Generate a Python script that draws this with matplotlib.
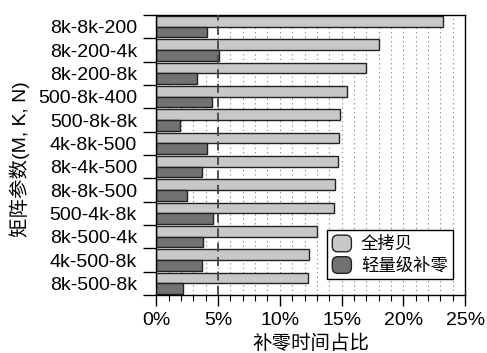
import matplotlib
matplotlib.use('Agg')
import matplotlib.pyplot as plt
import numpy as np
from matplotlib.patches import Patch, FancyBboxPatch
from matplotlib.legend_handler import HandlerPatch
from matplotlib.ticker import MultipleLocator, FixedLocator, FuncFormatter

plt.rcParams['font.family'] = ['Liberation Sans', 'Noto Sans CJK SC']

# 矩阵形状 (M-K-N)
shapes = ['8k-8k-200', '8k-200-4k', '8k-200-8k', '500-8k-400', '500-8k-8k',
          '4k-8k-500', '8k-4k-500', '8k-8k-500', '500-4k-8k', '8k-500-4k',
          '4k-500-8k', '8k-500-8k']
# 补零时间占比 (%)
full_copy = [23.2, 18.0, 17.0, 15.4, 14.9, 14.8, 14.7, 14.5, 14.4, 13.0, 12.4, 12.3]
light_pad = [4.1, 5.1, 3.3, 4.5, 1.9, 4.1, 3.7, 2.5, 4.6, 3.8, 3.7, 2.2]

series_names = ['全拷贝', '轻量级补零']
colors = ['#c8c8c8', '#727272']
fs = 14


class RoundBoxHandler(HandlerPatch):
    def create_artists(self, legend, orig_handle, xdescent, ydescent,
                       width, height, fontsize, trans):
        p = FancyBboxPatch((-xdescent + 1.5, -ydescent + 1.5), width - 3, height - 3,
                           boxstyle='round,pad=1.5,rounding_size=4',
                           facecolor=orig_handle.get_facecolor(),
                           edgecolor='#222222', linewidth=1.0, transform=trans)
        return [p]


fig = plt.figure(figsize=(4.87, 3.53), dpi=100)
ax = fig.add_axes([0.321, 0.164, 0.634, 0.7935])

y = np.arange(len(shapes))
h = 0.46
ax.barh(y - h / 2, full_copy, height=h, color=colors[0], edgecolor='#222222',
        linewidth=1.0, zorder=2)
ax.barh(y + h / 2, light_pad, height=h, color=colors[1], edgecolor='#222222',
        linewidth=1.0, zorder=2)
ax.axvline(5, color='#444444', linestyle=(0, (5, 3)), linewidth=1.3, zorder=3)

ax.set_xlim(0, 25)
ax.set_ylim(len(shapes) - 0.5, -0.5)

ax.xaxis.set_major_locator(MultipleLocator(5))
ax.xaxis.set_minor_locator(MultipleLocator(1))
ax.xaxis.set_major_formatter(FuncFormatter(lambda v, p: '%d%%' % v))
ax.tick_params(axis='x', which='major', direction='out', length=8, width=1,
               pad=4, labelsize=fs)
ax.tick_params(axis='x', which='minor', direction='out', length=4.5, width=0.8)
ax.grid(axis='x', which='both', linestyle=(0, (1, 3)), color='#777777',
        linewidth=0.8, zorder=0)

ax.set_yticks(y)
ax.set_yticklabels(shapes)
ax.yaxis.set_minor_locator(FixedLocator(np.arange(-0.5, len(shapes), 1.0)))
ax.tick_params(axis='y', which='major', length=0, pad=14, labelsize=fs)
ax.tick_params(axis='y', which='minor', direction='out', length=9.5, width=1)

for s in ax.spines.values():
    s.set_linewidth(1.0)
ax.set_axisbelow(True)

ax.set_xlabel('补零时间占比', fontsize=fs, labelpad=4)
ax.set_ylabel('矩阵参数(M, K, N)', fontsize=fs)
ax.yaxis.set_label_coords(-0.408, 0.485)

handles = [Patch(facecolor=c) for c in colors]
leg = ax.legend(handles, series_names, loc='lower right',
                bbox_to_anchor=(0.961, 0.057), borderaxespad=0,
                fontsize=12.5, fancybox=False, framealpha=1, edgecolor='black',
                handlelength=1.1, handleheight=1.1, handletextpad=0.55,
                labelspacing=0.25, borderpad=0.3,
                handler_map={Patch: RoundBoxHandler()})
leg.get_frame().set_linewidth(1.0)

fig.savefig('out.png', dpi=100)
